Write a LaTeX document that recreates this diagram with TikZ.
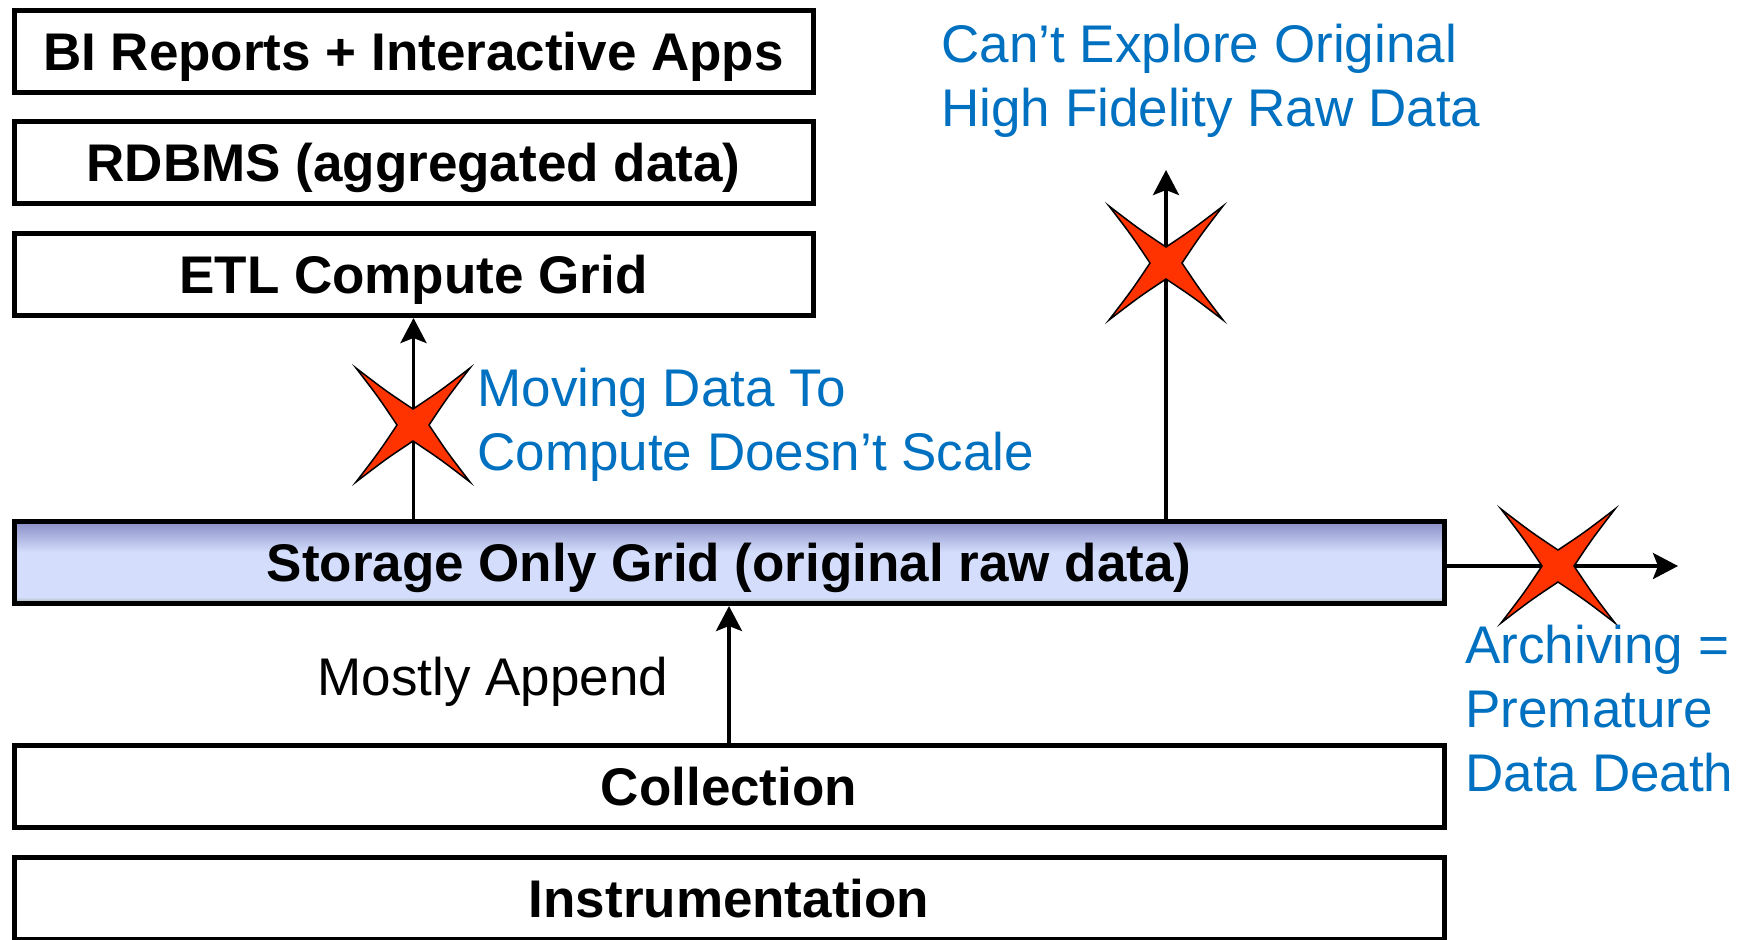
\documentclass[tikz,border=0pt]{standalone}
\usepackage{fontspec}
\setmainfont{Liberation Sans}
\usetikzlibrary{arrows.meta}

\definecolor{noteblue}{RGB}{0,112,192}
\definecolor{crossred}{RGB}{255,51,0}
\definecolor{gridtop}{RGB}{137,142,198}
\definecolor{gridmid}{RGB}{212,222,252}
\definecolor{gridbot}{RGB}{160,178,165}
\pgfdeclareverticalshading{gridshade}{100bp}{color(0bp)=(gridbot); color(25bp)=(gridbot); color(29bp)=(gridmid); color(56bp)=(gridmid); color(75bp)=(gridtop); color(100bp)=(gridtop)}

\tikzset{
  layer/.style={draw, line width=2.5pt, minimum height=41pt, inner sep=0pt, text height=19pt, text depth=0pt, font=\fontsize{26.5}{32}\selectfont\bfseries},
  narrow/.style={layer, minimum width=399.5pt},
  wide/.style={layer, minimum width=715pt},
  note/.style={inner sep=0pt, align=left, anchor=west, font=\fontsize{26.5}{32}\selectfont, text=noteblue},
  flow/.style={line width=1.8pt, -{Stealth[length=12.5pt,width=13pt,inset=2.5pt]}},
  nogo/.pic={
    \draw[fill=crossred, line width=0.75pt, line join=miter]
      (57,57) .. controls (34,27) .. (16,0) .. controls (34,-27) .. (57,-57)
      .. controls (27,-34) .. (0,-16) .. controls (-27,-34) .. (-57,-57)
      .. controls (-34,-27) .. (-16,0) .. controls (-34,27) .. (-57,57)
      .. controls (-27,34) .. (0,16) .. controls (27,34) .. (57,57) -- cycle;
  }
}

\begin{document}
\begin{tikzpicture}[x=0.5pt,y=-0.5pt]
\useasboundingbox (0,0) rectangle (1750,939);

% layers
\node[narrow] (bi) at (413.5,51) {BI Reports + Interactive Apps};
\node[narrow] (rdbms) at (413.5,162.5) {RDBMS (aggregated data)};
\node[narrow] (etl) at (413.5,274.5) {ETL Compute Grid};
\node[wide, shade, shading=gridshade] (storage) at (729,562.5) {Storage Only Grid (original raw data)};
\node[wide] (collect) at (729,786) {Collection};
\node[wide] (instr) at (729,898.5) {Instrumentation};

% arrows
\coordinate (explore) at (1166,170);
\coordinate (archive) at (1678,566);
\draw[flow] (storage.north -| etl.south) -- (etl.south);
\draw[flow] (storage.north -| explore) -- (explore);
\draw[flow] (storage.east |- archive) -- (archive);
\draw[flow] (collect.north) -- (storage.south);

% crosses
\pic at (413,425) {nogo};
\pic at (1166,263) {nogo};
\pic at (1558,566) {nogo};

% text
\node[note] (scalenote) at (477,425) {Moving Data To\\Compute Doesn’t Scale};
\node[note] (explorenote) at (941,81) {Can’t Explore Original\\High Fidelity Raw Data};
\node[note] (archnote) at (1465,709) {Archiving =\\Premature\\Data Death};
\node[inner sep=0pt, font=\fontsize{26.5}{32}\selectfont] (append) at (493,682) {Mostly Append};

\end{tikzpicture}
\end{document}
